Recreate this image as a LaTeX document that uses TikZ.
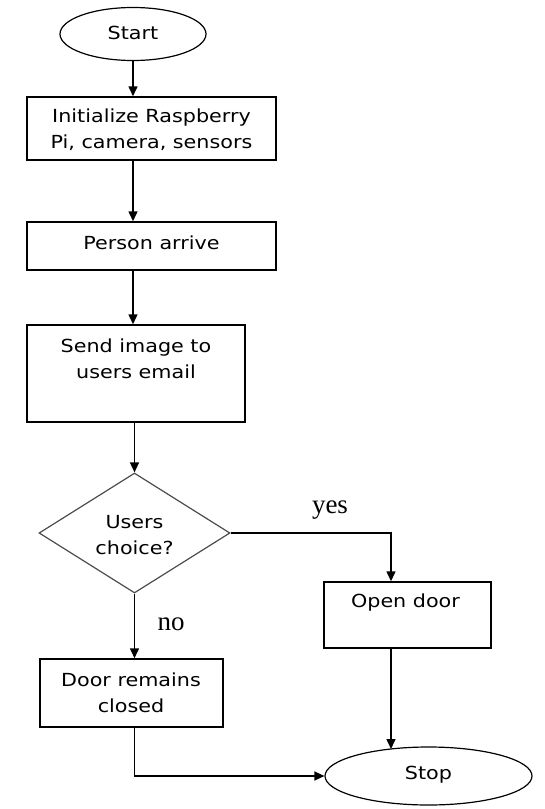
\documentclass[tikz,border=0pt]{standalone}
\usepackage{fontspec}
\setmainfont{DejaVu Sans}[FakeStretch=1.15]
\newfontfamily\ynfont{Liberation Serif}
\usetikzlibrary{arrows.meta,shapes.geometric}
\tikzset{
  boxst/.style={draw, line width=1.5pt, rectangle, inner sep=0pt},
  ovalst/.style={draw, line width=1.2pt, ellipse, inner sep=0pt},
  diast/.style={draw=black!70, line width=1.2pt, diamond, inner sep=0pt},
  txt/.style={align=center, inner sep=0pt, font=\fontsize{18}{26}\selectfont},
  yn/.style={inner sep=0pt, anchor=base, font=\ynfont\fontsize{27}{30}\selectfont},
  conn/.style={line width=1.5pt, -{Triangle[length=10pt,width=9pt]}},
}
\begin{document}
\begin{tikzpicture}[x=1pt,y=-1pt]
\useasboundingbox (0,0) rectangle (544,809);
% shapes
\node[ovalst, minimum width=146pt, minimum height=53pt] (start) at (133,34) {};
\node[boxst, minimum width=249pt, minimum height=63pt] (init) at (151.5,128.5) {};
\node[boxst, minimum width=249pt, minimum height=48pt] (person) at (151.5,246) {};
\node[boxst, minimum width=218pt, minimum height=97pt] (send) at (136,373.5) {};
\node[diast, minimum width=191pt, minimum height=120pt] (choice) at (134.5,533) {};
\node[boxst, minimum width=167pt, minimum height=66pt] (open) at (407.5,615) {};
\node[boxst, minimum width=183pt, minimum height=68pt] (closed) at (131.5,693) {};
\node[ovalst, minimum width=207pt, minimum height=58pt] (stop) at (428.5,776) {};
% texts
\node[txt] (tstart) at (133,33) {Start};
\node[txt] (tinit) at (151.5,130) {Initialize Raspberry\\Pi, camera, sensors};
\node[txt] (tperson) at (151.5,243) {Person arrive};
\node[txt] (tsend) at (136,359) {Send image to\\users email};
\node[txt] (tchoice) at (134.5,535) {Users\\choice?};
\node[txt] (topen) at (405.5,603) {Open door};
\node[txt] (tclosed) at (131,693) {Door remains\\closed};
\node[txt] (tstop) at (428.5,775) {Stop};
\node[yn] (yes) at (330,513) {yes};
\node[yn] (no) at (171,630) {no};
% connectors
\coordinate (turn) at (391,533);
\coordinate (stopin) at (391,749);
\draw[conn] (start.south) -- (init.north -| start.south);
\draw[conn] (init.south -| start.south) -- (person.north -| start.south);
\draw[conn] (person.south -| start.south) -- (send.north -| start.south);
\draw[conn] (send.south -| choice.north) -- (choice.north);
\draw[conn] (choice.south) -- (closed.north -| choice.south);
\draw[conn] (choice.east) -- (turn) -- (open.north -| turn);
\draw[conn] (open.south -| turn) -- (stopin);
\draw[conn] (closed.south -| choice.south) |- (stop.west);
\end{tikzpicture}
\end{document}
